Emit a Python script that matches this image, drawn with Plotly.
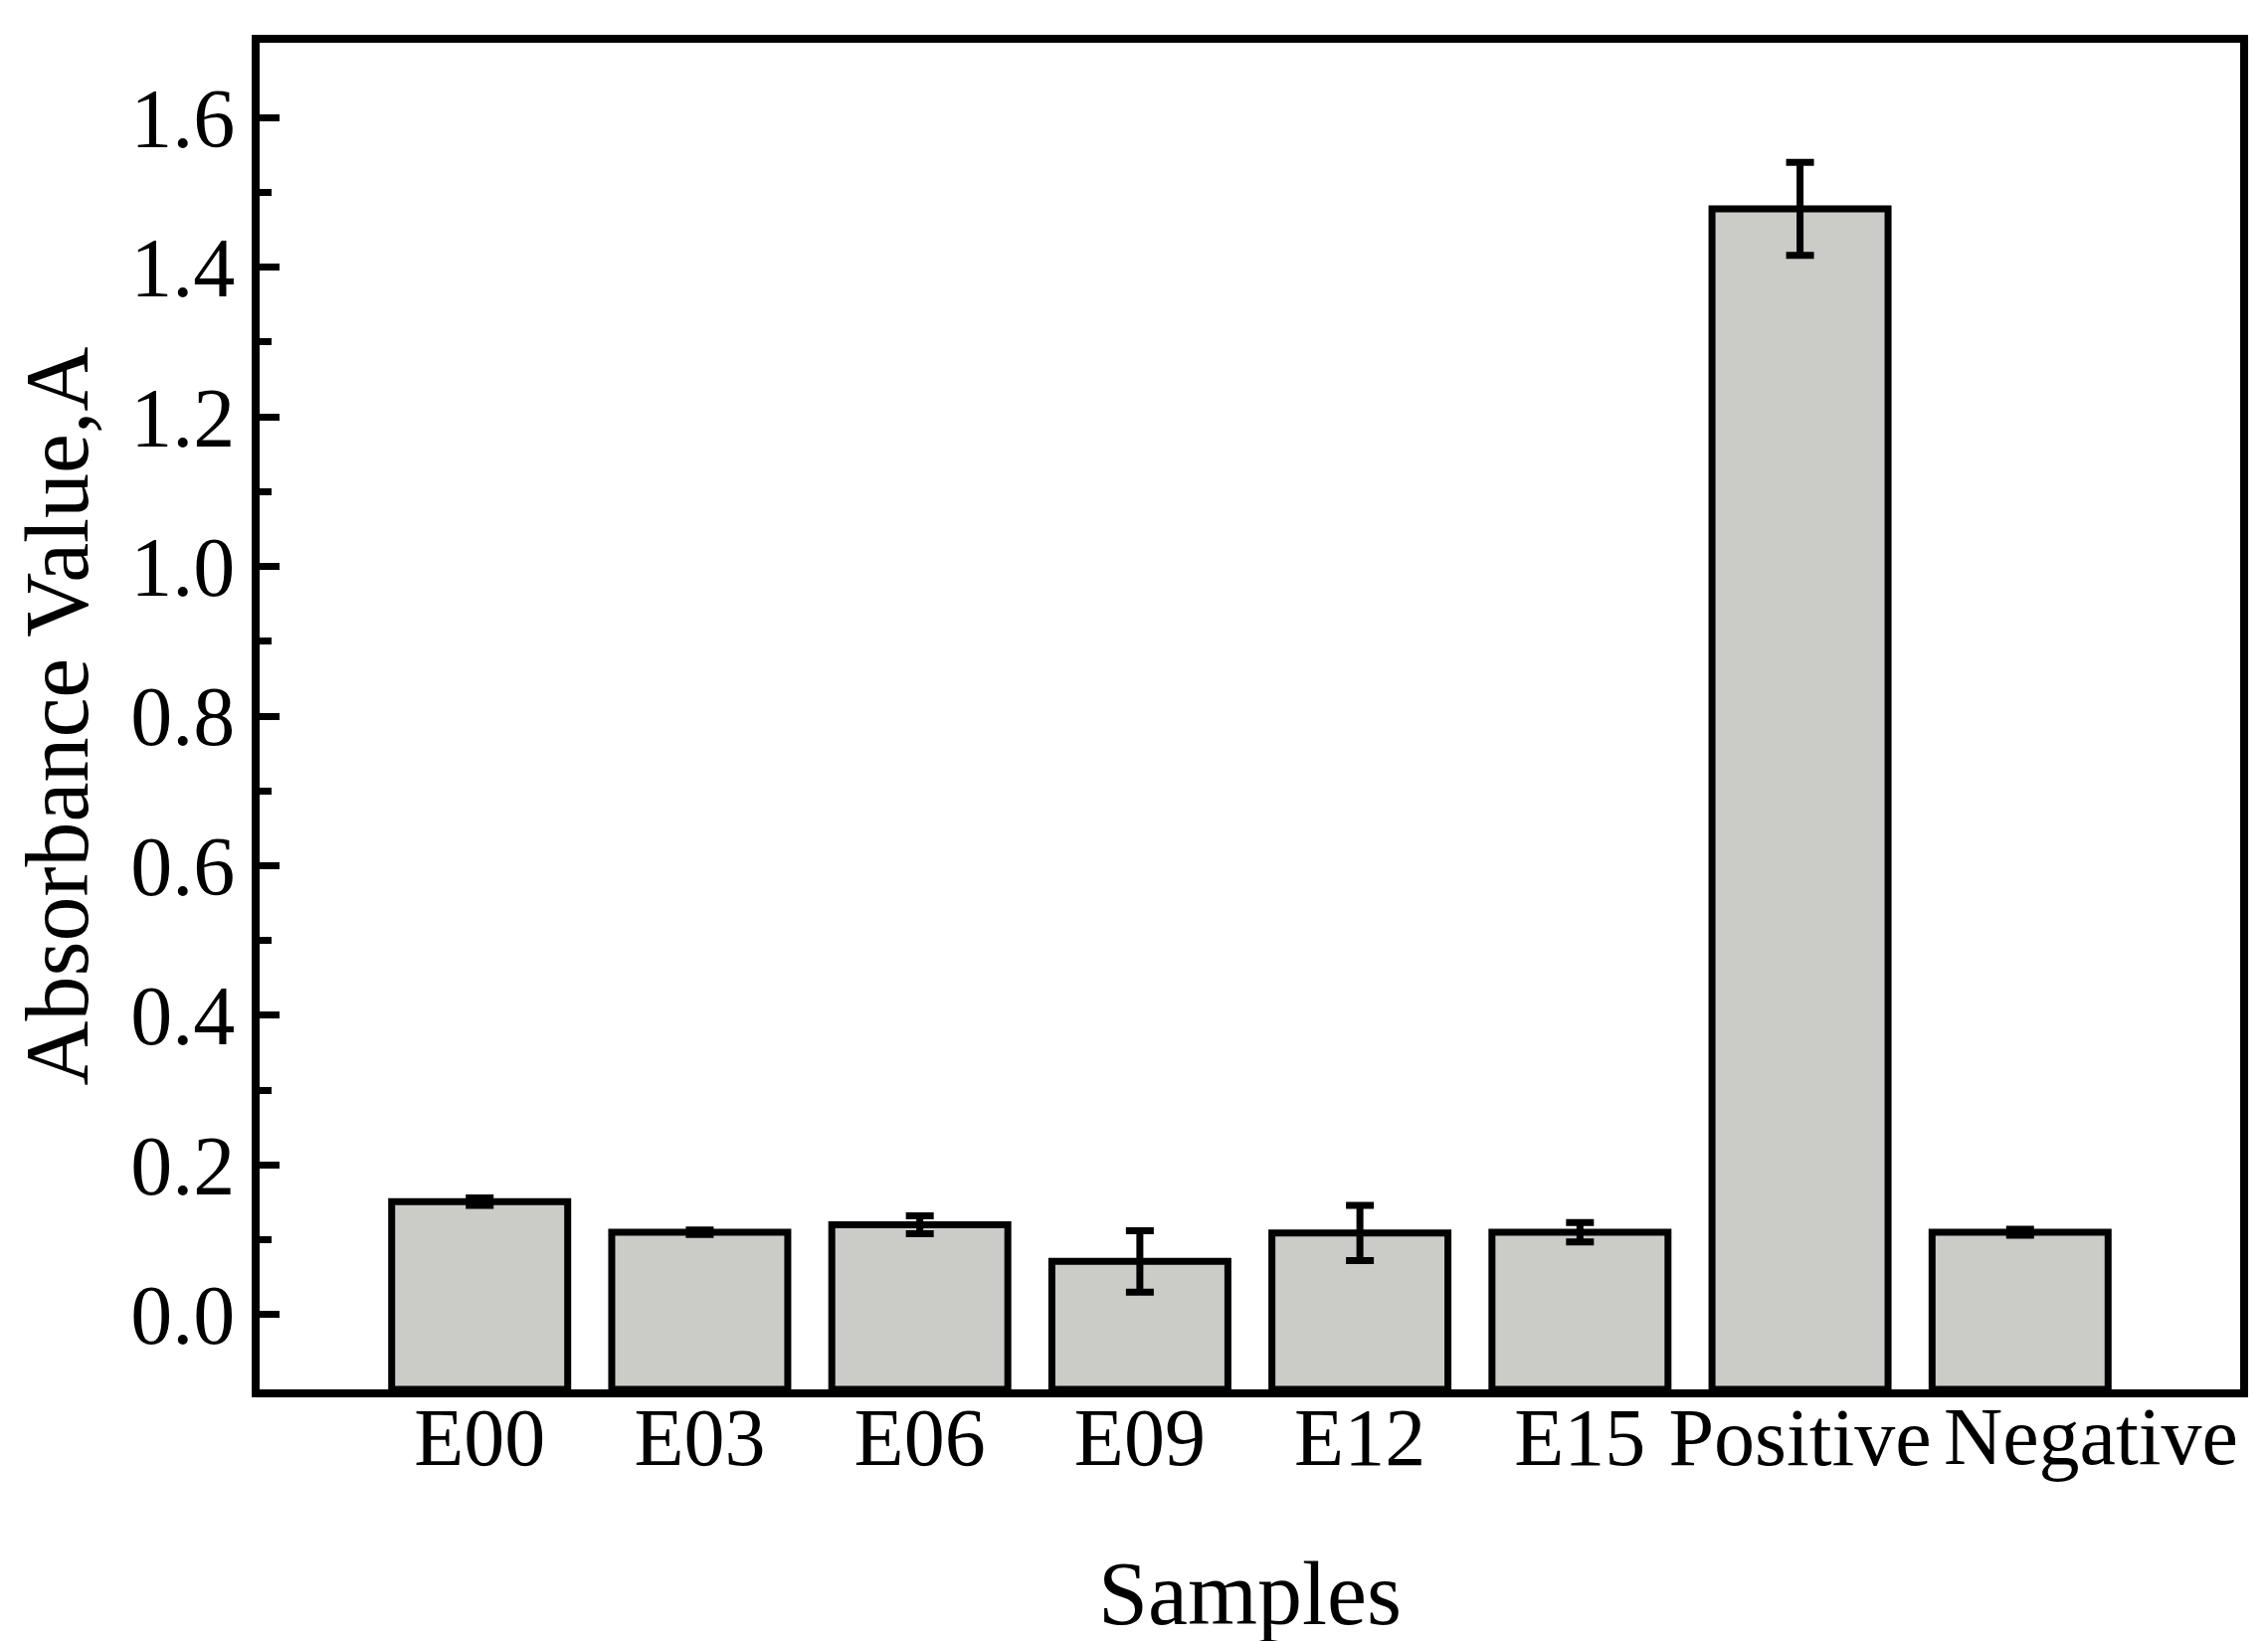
import plotly.graph_objects as go

categories = ["E00", "E03", "E06", "E09", "E12", "E15", "Positive", "Negative"]
absorbance = [0.151, 0.110, 0.120, 0.071, 0.109, 0.110, 1.478, 0.110]
errors = [0.005, 0.003, 0.012, 0.041, 0.037, 0.013, 0.062, 0.004]
# the last label sits slightly right of its bar in the original; drawn as an annotation
tick_labels = ["E00", "E03", "E06", "E09", "E12", "E15", "Positive", ""]
shifted_label = "Negative"

y_min, y_max = -0.1, 1.7
y_ticks = [0.0, 0.2, 0.4, 0.6, 0.8, 1.0, 1.2, 1.4, 1.6]

FONT = "Liberation Serif"
BAR_FILL = "rgb(203,203,199)"

fig = go.Figure()
fig.add_trace(go.Bar(
    x=categories,
    y=[v - y_min for v in absorbance],
    base=y_min,
    width=0.8,
    marker=dict(color=BAR_FILL, line=dict(color="black", width=7)),
    hoverinfo="skip",
    showlegend=False,
))
fig.add_trace(go.Scatter(
    x=categories,
    y=absorbance,
    mode="markers",
    marker=dict(size=1, color="rgba(0,0,0,0)"),
    error_y=dict(type="data", array=errors, visible=True,
                 color="black", thickness=7, width=14),
    showlegend=False,
))

fig.add_annotation(
    x=categories[-1], y=0, xref="x", yref="paper",
    text=shifted_label, showarrow=False,
    xanchor="center", yanchor="top", xshift=71, yshift=0,
    font=dict(family=FONT, size=82, color="black"),
)

fig.update_layout(
    width=2280, height=1650,
    margin=dict(l=253, r=36, t=35, b=261),
    paper_bgcolor="white", plot_bgcolor="white",
    font=dict(family=FONT, color="black", size=82),
    bargap=0.2,
)
fig.update_xaxes(
    type="category",
    range=[-1, 8],
    automargin=False,
    tickangle=0,
    tickvals=categories,
    ticktext=tick_labels,
    ticklabelstandoff=-30,
    showline=True, linecolor="black", linewidth=8, mirror=True,
    ticks="", showgrid=False, zeroline=False,
    tickfont=dict(family=FONT, size=82, color="black"),
    title=dict(text="Samples", font=dict(family=FONT, size=90, color="black"), standoff=83),
)
fig.update_yaxes(
    range=[y_min, y_max],
    automargin=False,
    tickvals=y_ticks,
    ticktext=[f"{t:.1f}" for t in y_ticks],
    showline=True, linecolor="black", linewidth=8, mirror=True,
    ticks="inside", ticklen=20, tickwidth=7, tickcolor="black",
    minor=dict(dtick=0.1, tick0=0, ticks="inside", ticklen=12, tickwidth=7, tickcolor="black", showgrid=False),
    showgrid=False, zeroline=False,
    tickfont=dict(family=FONT, size=84, color="black"),
    title=dict(text="Absorbance Value,A", font=dict(family=FONT, size=90, color="black"), standoff=40),
)

fig.write_html("out.html")
